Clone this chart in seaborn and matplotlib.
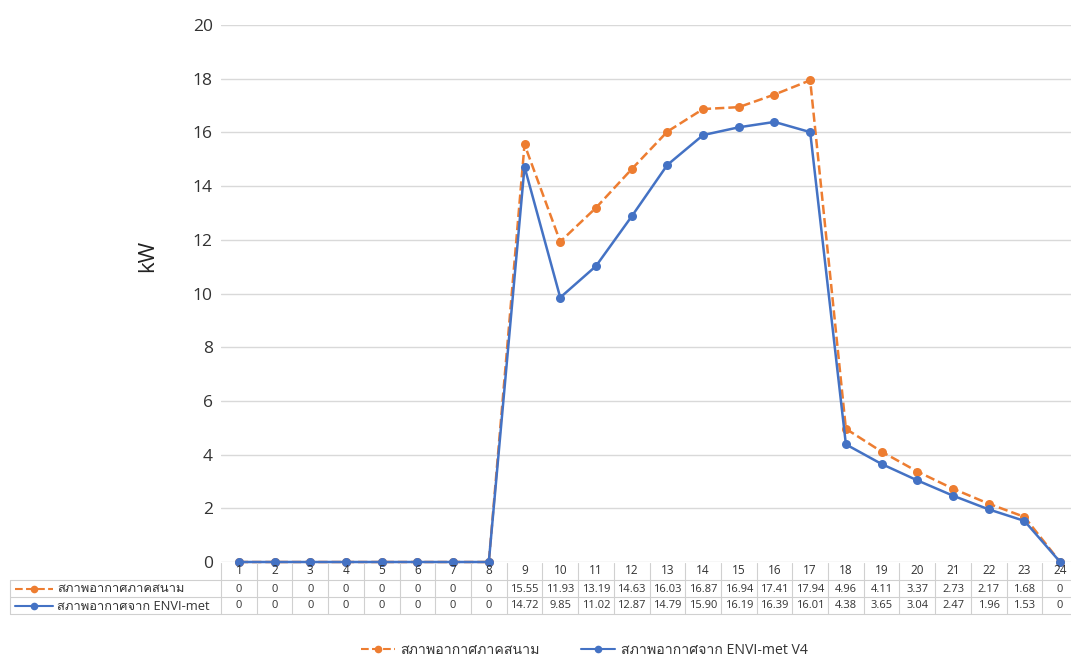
import matplotlib
matplotlib.use("Agg")
import matplotlib.pyplot as plt
import matplotlib.transforms as mtrans
from matplotlib.lines import Line2D
from matplotlib import font_manager
import seaborn as sns
import pandas as pd

# ---------------- data ----------------
hours = list(range(1, 25))
field_label = "สภาพอากาศภาคสนาม"
envi_label_table = "สภาพอากาศจาก ENVI-met"
envi_label_legend = "สภาพอากาศจาก ENVI-met V4"
field_values = [0, 0, 0, 0, 0, 0, 0, 0, 15.55, 11.93, 13.19, 14.63, 16.03, 16.87,
                16.94, 17.41, 17.94, 4.96, 4.11, 3.37, 2.73, 2.17, 1.68, 0]
envi_values = [0, 0, 0, 0, 0, 0, 0, 0, 14.72, 9.85, 11.02, 12.87, 14.79, 15.90,
               16.19, 16.39, 16.01, 4.38, 3.65, 3.04, 2.47, 1.96, 1.53, 0]
y_ticks = [0, 2, 4, 6, 8, 10, 12, 14, 16, 18, 20]
y_label = "kW"

# ---------------- fonts ----------------
thai_family = None
try:
    from fontTools.ttLib import TTFont
    for f in font_manager.fontManager.ttflist:
        try:
            tt = TTFont(f.fname, fontNumber=0, lazy=True)
            cmap = tt.getBestCmap()
            if cmap and 0x0E2A in cmap and 0x0E20 in cmap:
                thai_family = f.name
                break
        except Exception:
            pass
except Exception:
    pass

sns.set_theme(style="white")
fams = ["Open Sans"]
if thai_family:
    fams.append(thai_family)
fams.append("DejaVu Sans")
plt.rcParams["font.family"] = fams

ORANGE = "#ED7D31"
BLUE = "#4472C4"
W, H = 1071, 657

fig = plt.figure(figsize=(W / 100, H / 100), dpi=100)
ax = fig.add_axes([221 / W, 1 - 562 / H, (W - 221) / W, (562 - 25) / H])

df = pd.DataFrame({"hour": hours, "field": field_values, "envi": envi_values})
sns.lineplot(data=df, x="hour", y="field", ax=ax, color=ORANGE, linestyle="--",
             marker="o", markersize=6.5, markeredgewidth=0, linewidth=1.8,
             label=field_label, legend=False, clip_on=False)
sns.lineplot(data=df, x="hour", y="envi", ax=ax, color=BLUE, linestyle="-",
             marker="o", markersize=6.5, markeredgewidth=0, linewidth=1.8,
             label=envi_label_legend, legend=False, clip_on=False)

ax.set_ylim(0, 20)
ax.set_xlim(0.5, 24.5 - 7 / 35.7)
ax.set_yticks(y_ticks)
ax.set_yticklabels([str(v) for v in y_ticks], fontsize=12.5, color="#333333")
ax.set_xticks([])
ax.set_xlabel("")
ax.set_ylabel(y_label, fontsize=16, color="#222222")
ax.yaxis.set_label_coords(-0.074, 0.57)
ax.tick_params(axis="y", length=0, pad=6)
ax.grid(axis="y", color="#D9D9D9", linewidth=1)
for s in ax.spines.values():
    s.set_visible(False)

# ---------------- data table ----------------
tr = mtrans.blended_transform_factory(ax.transData, fig.transFigure)
def fy(p):
    return 1 - p / H

row_head, row1, row2 = 571, 589, 606
grid_c = "#D0D0D0"
for i in range(len(hours) + 1):
    xb = 0.5 + i
    ax.plot([xb, xb], [fy(563), fy(614)], transform=tr, color=grid_c, lw=0.8, clip_on=False)
for yp in [580, 597, 614]:
    ax.plot([0.5, 25], [fy(yp), fy(yp)], transform=tr, color=grid_c, lw=0.8, clip_on=False)
for yp in [580, 597, 614]:
    fig.add_artist(Line2D([10 / W, 221 / W], [fy(yp), fy(yp)], color=grid_c, lw=0.8))
fig.add_artist(Line2D([10 / W, 10 / W], [fy(580), fy(614)], color=grid_c, lw=0.8))

for h, fv, ev in zip(hours, field_values, envi_values):
    ax.text(h, fy(row_head), str(h), transform=tr, ha="center", va="center", fontsize=8.5, color="#333333")
    ax.text(h, fy(row1), f"{fv:.2f}" if fv != 0 else "0", transform=tr,
            ha="center", va="center", fontsize=8, color="#333333")
    ax.text(h, fy(row2), f"{ev:.2f}" if ev != 0 else "0", transform=tr,
            ha="center", va="center", fontsize=8, color="#333333")

fig.add_artist(Line2D([15 / W, 53 / W], [fy(row1), fy(row1)], color=ORANGE, lw=1.5, ls="--"))
fig.add_artist(Line2D([34 / W], [fy(row1)], color=ORANGE, marker="o", markersize=5.5, markeredgewidth=0))
fig.add_artist(Line2D([15 / W, 53 / W], [fy(row2), fy(row2)], color=BLUE, lw=1.5))
fig.add_artist(Line2D([34 / W], [fy(row2)], color=BLUE, marker="o", markersize=5.5, markeredgewidth=0))
fig.text(57 / W, fy(row1), field_label, ha="left", va="center", fontsize=9.3, color="#333333")
fig.text(57 / W, fy(row2), envi_label_table, ha="left", va="center", fontsize=9.3, color="#333333")

# ---------------- legend ----------------
handles = [Line2D([], [], color=ORANGE, ls="--", lw=1.5, marker="o", markersize=5.5, markeredgewidth=0),
           Line2D([], [], color=BLUE, ls="-", lw=1.5, marker="o", markersize=5.5, markeredgewidth=0)]
fig.legend(handles, [field_label, envi_label_legend], loc="center", bbox_to_anchor=(584 / W, fy(650)),
           ncol=2, frameon=False, fontsize=10.2, handlelength=2.4, handletextpad=0.4,
           columnspacing=2.9, labelcolor="#333333")

fig.savefig("out.png", dpi=100)
